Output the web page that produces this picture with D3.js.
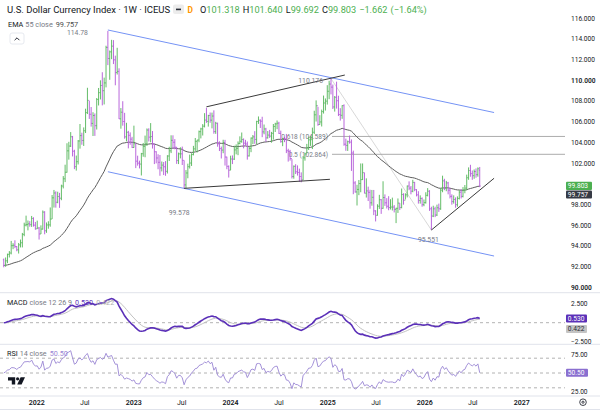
<!DOCTYPE html>
<html><head><meta charset="utf-8">
<script src="https://cdn.jsdelivr.net/npm/d3@7"></script>
<style>html,body{margin:0;padding:0;background:#fff;overflow:hidden}svg{display:block;font-family:Roboto,"Open Sans",sans-serif}</style>
</head><body><svg id="c" width="600" height="411"></svg>
<script>
// ---------------- DATA (weekly bars, Monday dated) ----------------
const firstWeek = "2021-08-30";
const firstOpen = 92.68;
const closes = [
 92.13,92.58,93.20,93.33,94.04,94.08,93.96,93.64,94.12,94.32,95.13,96.03,96.08,96.15,96.07,96.67,96.02,95.67,
 95.74,95.17,95.64,97.28,95.48,96.04,96.05,96.61,98.66,99.13,98.23,98.79,98.62,99.80,100.50,101.13,103.20,103.66,104.56,103.16,101.67,102.15,104.15,104.67,104.20,105.14,106.89,108.07,106.73,105.85,106.61,105.63,108.16,108.82,109.51,109.01,109.76,113.19,112.12,112.76,113.31,111.99,110.76,110.87,106.29,106.93,106.03,104.55,104.99,104.70,104.33,103.52,
 103.89,102.20,102.01,101.92,102.92,103.63,103.87,105.21,104.52,104.58,103.86,103.11,102.51,102.09,101.55,101.82,101.66,101.22,102.70,103.20,104.21,104.03,103.55,102.26,102.91,102.91,102.28,99.91,101.06,101.67,102.02,102.84,103.39,104.11,104.24,105.05,105.32,105.58,106.17,106.04,106.61,106.16,106.56,105.06,105.86,103.87,103.42,103.27,104.00,102.60,101.70,101.33,
 102.41,102.40,103.29,103.44,103.92,104.12,104.29,103.94,103.86,102.71,103.43,104.43,104.55,104.30,106.04,106.15,106.06,105.03,105.31,104.45,104.72,104.62,104.89,105.55,105.80,105.87,104.88,104.09,104.40,104.32,103.21,103.14,102.45,100.72,101.70,101.18,101.11,100.72,100.38,102.52,102.90,103.49,104.26,104.28,104.99,106.68,107.55,105.74,105.99,106.99,107.82,108.00,108.95,
 109.65,109.35,107.44,108.37,108.04,106.71,106.63,107.56,103.84,103.72,104.09,104.04,102.99,100.10,99.23,99.47,100.04,100.42,101.09,99.11,99.33,99.19,98.18,98.71,97.40,96.97,97.85,98.48,97.65,98.69,98.18,97.85,97.72,97.77,97.77,97.55,97.65,98.15,97.72,
 98.98,98.43,98.95,99.80,99.60,99.30,100.15,99.45,98.95,98.40,98.60,98.00,98.20,
 98.90,99.30,97.60,96.90,97.60,97.00,97.70,97.60,99.40,100.30,99.60,100.10,99.40,98.80,98.30,98.50,98.00,98.60,99.20,98.80,99.40,99.60,100.60,101.30,101.00,100.80,101.20,100.90,101.465,99.803
];
const highs = [
 92.80,92.90,93.27,93.52,94.50,94.28,94.56,94.00,94.30,94.63,95.27,96.26,96.94,96.47,96.41,96.91,96.78,96.33,
 96.46,95.85,96.00,97.44,97.37,96.28,96.40,97.73,98.93,99.42,99.29,99.25,99.14,99.93,100.76,101.86,103.93,104.07,105.01,104.64,103.30,102.74,104.24,105.79,104.95,105.46,107.27,109.29,108.02,107.43,106.93,106.81,108.30,109.27,110.01,110.79,110.27,113.35,114.78,112.89,113.92,113.89,112.39,113.15,111.17,107.33,107.99,106.87,105.91,105.13,104.98,104.55,
 105.63,103.92,102.73,102.25,103.00,103.96,104.67,105.36,105.38,105.88,105.11,103.88,103.16,102.87,102.80,102.17,102.12,102.21,102.78,103.59,104.70,104.70,104.33,103.57,103.03,103.54,103.61,102.27,101.34,101.96,102.84,102.97,103.68,104.44,104.26,105.16,105.43,105.78,106.84,107.35,106.68,106.90,106.89,107.11,106.00,105.92,104.12,103.61,104.27,104.26,102.63,101.79,
 102.73,102.76,103.69,103.82,104.11,104.60,104.97,104.40,104.26,104.10,103.61,104.49,104.73,105.10,106.10,106.52,106.24,106.49,105.74,105.42,105.11,105.22,105.03,105.79,105.91,106.13,106.00,105.15,104.44,104.55,104.83,103.40,103.29,102.40,101.79,101.91,101.79,101.48,101.12,102.69,103.01,103.87,104.57,104.63,105.44,107.07,108.07,107.45,106.64,107.18,108.54,108.26,109.54,
 109.96,110.18,109.60,108.49,109.88,108.52,107.32,107.60,107.69,104.38,104.19,104.68,104.30,103.22,100.27,99.92,100.38,101.98,101.98,101.09,100.54,99.74,99.44,99.42,99.42,97.46,98.04,98.95,98.55,100.26,98.99,98.63,98.82,98.53,98.68,97.96,97.70,98.60,98.15,
 99.56,99.10,99.10,99.85,100.25,99.80,100.40,100.20,99.50,99.30,98.90,98.70,98.50,
 99.20,99.60,99.40,97.80,97.90,97.80,98.00,98.10,99.60,100.80,100.50,100.30,100.20,99.60,99.00,98.90,98.70,98.80,99.40,99.50,99.70,99.90,100.90,101.60,101.85,101.30,101.40,101.50,101.60,101.640
];
const lows = [
 91.95,92.00,92.35,92.90,93.20,93.70,93.80,93.50,93.28,93.87,93.87,94.95,95.90,95.52,95.87,95.85,95.88,95.58,
 95.67,94.63,95.17,95.59,95.14,95.28,95.68,95.87,96.62,97.72,97.71,98.14,97.69,98.43,99.57,100.18,101.09,102.35,103.57,102.66,101.43,101.29,101.88,103.41,103.79,103.67,104.92,106.75,106.28,105.54,104.63,104.64,105.26,107.58,108.16,107.59,107.68,109.33,111.48,110.06,112.05,111.58,109.53,110.57,106.27,105.34,105.63,104.37,104.11,103.44,103.79,103.48,
 103.50,101.53,101.77,101.50,100.82,102.63,102.58,103.67,104.10,104.03,103.42,101.92,101.99,101.42,100.79,101.21,100.86,100.79,101.01,102.22,102.98,103.39,103.35,101.94,101.92,102.47,101.83,99.58,99.61,100.55,101.49,101.74,102.76,103.19,103.04,104.03,104.40,104.68,105.46,105.90,105.54,105.91,105.37,104.85,104.84,103.60,103.18,102.46,102.97,101.78,101.42,100.62,
 101.34,101.92,102.32,102.86,102.78,103.83,103.98,103.44,103.69,102.35,102.65,103.07,103.85,103.88,103.85,105.80,105.41,104.52,104.80,104.08,104.39,104.45,103.99,104.28,105.02,105.29,104.83,103.99,103.65,104.04,102.98,102.16,102.25,100.53,100.51,100.96,100.81,100.21,100.16,100.38,102.25,102.97,103.28,103.68,103.37,104.82,106.03,105.62,105.73,105.55,106.80,107.09,107.67,
 108.19,108.65,107.24,106.99,107.28,106.56,106.12,106.29,103.69,103.20,103.19,103.89,101.26,99.01,99.16,97.92,98.92,99.20,100.38,99.09,98.69,98.35,97.61,97.90,96.99,96.38,96.94,97.59,97.11,97.60,97.88,97.63,97.46,97.53,97.44,97.25,96.22,97.20,97.48,
 97.65,98.00,98.50,98.70,99.40,99.00,99.20,99.30,98.80,98.10,98.10,97.80,97.85,
 98.10,98.80,97.40,95.551,96.80,96.80,96.90,97.30,97.50,99.20,99.40,99.30,99.00,98.60,98.00,98.10,97.70,97.80,98.50,98.60,98.70,99.10,99.40,100.40,100.70,100.40,100.50,100.60,100.70,99.692
];
const headerOHLC = [101.318, 101.640, 99.692, 99.803];
const headerChange = ["−1.662", "(−1.64%)"];
const emaLastLabel = 99.757;
const macdLabels = [0.530, 0.422];
const rsiLastLabel = 50.50;
const rsiSeed = 0.5;

const priceTicks = [90,92,94,96,98,100,102,104,106,108,110,112,114,116];
const macdTicks = [2.5, -2.5];
const rsiTicks = [75, 25];
const rsiBands = [70, 50, 30];
const timeTicks = [["2022-01-01","2022",true],["2022-07-01","Jul",false],["2023-01-01","2023",true],["2023-07-01","Jul",false],["2024-01-01","2024",true],["2024-07-01","Jul",false],["2025-01-01","2025",true],["2025-07-01","Jul",false],["2026-01-01","2026",true],["2026-07-01","Jul",false],["2027-01-01","2027",true]];

// drawings (date, price)
const channelUpper = [["2022-09-26",114.87],["2026-09-19",106.90]];
const channelLower = [["2022-09-26",101.18],["2026-09-19",93.04]];
const wedgeUpper   = [["2023-10-02",107.45],["2025-03-06",110.52]];
const wedgeLower   = [["2023-07-10",99.578],["2025-01-09",100.45]];
const dropLine     = [["2025-01-13",110.176],["2026-01-26",95.551]];
const riseLine     = [["2026-01-26",95.551],["2026-09-19",100.55]];
const fibStart = "2025-01-13";
const fibLevels = [["0.618",104.589],["0.5",102.864]];
const pivots = [["2022-09-26",114.78,"114.78"],["2025-01-13",110.176,"110.176"],["2023-07-10",99.578,"99.578"],["2026-01-26",95.551,"95.551"]];

// ---------------- SETUP ----------------
const svg = d3.select("#c");
const P = d3.utcParse("%Y-%m-%d");
const dates = d3.utcMonday.range(P(firstWeek), P("2026-08-01")).slice(0, closes.length);
const opens = closes.map((c,i)=> i===0 ? firstOpen : closes[i-1]);
opens[opens.length-1] = headerOHLC[0];

const paneR = 565;
const x = d3.scaleUtc().domain([P("2022-01-01"), P("2027-01-01")]).range([36.7, 521.7]);
const y = d3.scaleLinear().domain([90,116]).range([287.5, 18.3]);
const yM = d3.scaleLinear().domain([-2.5,2.5]).range([342.1, 303.3]);
const yR = d3.scaleLinear().domain([25,75]).range([391.5, 354.5]);

// indicators
function ema(arr, n){ const a=2/(n+1); const out=[]; arr.forEach((v,i)=>out.push(i===0?v:a*v+(1-a)*out[i-1])); return out; }
const ema55 = ema(closes,55);
const e12 = ema(closes,12), e26 = ema(closes,26);
const macd = e12.map((v,i)=>v-e26[i]);
const signal = ema(macd,9);
const rsi = [];
let ag = rsiSeed, al = rsiSeed;
closes.forEach((c,i)=>{
  if(i>0){ const d=c-closes[i-1]; ag=(ag*13+Math.max(d,0))/14; al=(al*13+Math.max(-d,0))/14; }
  rsi.push(100-100/(1+ag/al));
});

const defs = svg.append("defs");
defs.append("clipPath").attr("id","cp").append("rect").attr("x",0).attr("y",0).attr("width",paneR).attr("height",292.5);
defs.append("clipPath").attr("id","cm").append("rect").attr("x",0).attr("y",293).attr("width",paneR).attr("height",51);
defs.append("clipPath").attr("id","cr").append("rect").attr("x",0).attr("y",345).attr("width",paneR).attr("height",50.5);
defs.append("clipPath").attr("id","cmAx").append("rect").attr("x",paneR).attr("y",293).attr("width",35).attr("height",51);

// separators
[292.7, 344.3, 396].forEach(v=> svg.append("line").attr("x1",0).attr("x2",600).attr("y1",v).attr("y2",v).attr("stroke","#e0e3eb").attr("stroke-width",1));

const gP = svg.append("g").attr("clip-path","url(#cp)");

const seg = (g, pts, color, w, dash) => g.append("line")
  .attr("x1",x(P(pts[0][0]))).attr("y1",y(pts[0][1])).attr("x2",x(P(pts[1][0]))).attr("y2",y(pts[1][1]))
  .attr("stroke",color).attr("stroke-width",w).attr("stroke-dasharray",dash||null);
seg(gP, channelUpper, "#7593f5", 1);
seg(gP, channelLower, "#7593f5", 1);
seg(gP, dropLine, "#d4d4d4", 0.9);

fibLevels.forEach(([lab,v])=>{
  gP.append("line").attr("x1",x(P(fibStart))+1).attr("x2",paneR).attr("y1",y(v)).attr("y2",y(v)).attr("stroke","#a3a3a3").attr("stroke-width",0.9);
  gP.append("text").attr("x",x(P(fibStart))-3).attr("y",y(v)+2.4).attr("text-anchor","end").attr("font-size",6.6).attr("fill","#787b86").text(`${lab} (${v.toFixed(3)})`);
});

gP.append("path").attr("d", d3.line().x((d,i)=>x(dates[i])).y(d=>y(d))(ema55)).attr("fill","none").attr("stroke","#5d5d5d").attr("stroke-width",1);

const UP="#5cb860", DN="#b55fd9";
closes.forEach((c,i)=>{
  const xi = x(dates[i]), o=opens[i];
  gP.append("path").attr("d",`M${xi},${y(highs[i])}V${y(lows[i])}M${xi-0.9},${y(o)}H${xi}M${xi},${y(c)}H${xi+0.9}`)
    .attr("stroke", c>=o?UP:DN).attr("stroke-width",0.95).attr("fill","none");
});

seg(gP, wedgeUpper, "#3a3a3a", 1);
seg(gP, wedgeLower, "#3a3a3a", 1);
seg(gP, riseLine, "#3a3a3a", 1);

const pv = {};
pivots.forEach(p=>pv[p[2]]=p);
function pLabel(k, dx, dy, anchor){ const p=pv[k]; gP.append("text").attr("x",x(P(p[0]))+dx).attr("y",y(p[1])+dy).attr("text-anchor",anchor).attr("font-size",6.8).attr("fill","#787b86").text(p[2]); }
pLabel("114.78", -20, 3.6, "end");
pLabel("110.176", -8, 4, "end");
pLabel("99.578", -5, 26.5, "middle");
pLabel("95.551", -3, 12, "middle");

// last price labels
function box(top, h, w, bg, fg, txt){
  svg.append("rect").attr("x",566).attr("y",top).attr("width",w).attr("height",h).attr("rx",1).attr("fill",bg);
  svg.append("text").attr("x",567.8).attr("y",top+h/2+2.3).attr("font-size",6.6).attr("fill",fg).text(txt);
}
const lc = closes[closes.length-1];
const gTop = y(lc)-4.2;
// price axis (labels hidden behind the last-price boxes are skipped)
priceTicks.forEach(v=>{
  const ty = y(v);
  if (ty > gTop-4 && ty < gTop+8.6+8.2+4) return;
  svg.append("text").attr("x",571).attr("y",ty+2.3).attr("font-size",6.6).attr("fill","#131722")
    .attr("font-weight", v%10===0 ? 600 : 400).text(v.toFixed(3));
});
box(gTop, 8.2, 26, "#4caf50", "#fff", lc.toFixed(3));
box(gTop+8.6, 8.2, 26, "#363a45", "#fff", emaLastLabel.toFixed(3));

// header
svg.append("text").attr("x",7).attr("y",13.2).attr("font-size",9.5).attr("fill","#131722").text("U.S. Dollar Currency Index · 1W · ICEUS");
svg.append("rect").attr("x",173).attr("y",4.5).attr("width",11).attr("height",9.5).attr("rx",2).attr("fill","#ececec");
svg.append("rect").attr("x",176).attr("y",8.6).attr("width",5).attr("height",1.6).attr("fill","#2a2e39");
svg.append("text").attr("x",187.5).attr("y",12.6).attr("font-size",8.4).attr("font-weight",700).attr("fill","#ff9800").text("D");
const oh = svg.append("text").attr("x",200).attr("y",12.8).attr("font-size",9.2);
[["O",headerOHLC[0]],["H",headerOHLC[1]],["L",headerOHLC[2]],["C",headerOHLC[3]]].forEach(([k,v],i)=>{
  oh.append("tspan").attr("fill","#131722").attr("dx", i?3:0).text(k);
  oh.append("tspan").attr("fill","#4caf50").text(v.toFixed(3));
});
oh.append("tspan").attr("fill","#4caf50").attr("dx",3).text(headerChange[0]);
oh.append("tspan").attr("fill","#4caf50").attr("dx",3).text(headerChange[1]);

const emaT = svg.append("text").attr("x",8).attr("y",26.8).attr("font-size",7.3);
emaT.append("tspan").attr("fill","#131722").text("EMA");
emaT.append("tspan").attr("fill","#787b86").attr("dx",2).text("55 close");
emaT.append("tspan").attr("fill","#4a4a4a").attr("dx",3).text(emaLastLabel.toFixed(3));

svg.append("rect").attr("x",10).attr("y",33).attr("width",14).attr("height",11).attr("rx",2).attr("fill","#fff").attr("stroke","#e0e3eb").attr("stroke-width",0.8);
svg.append("path").attr("d","M14.6,40.2L17,37.8L19.4,40.2").attr("fill","none").attr("stroke","#131722").attr("stroke-width",0.9);

// ---------------- MACD ----------------
const gM = svg.append("g").attr("clip-path","url(#cm)");
gM.append("line").attr("x1",0).attr("x2",paneR).attr("y1",yM(0)).attr("y2",yM(0)).attr("stroke","#9e9e9e").attr("stroke-width",0.8).attr("stroke-dasharray","3,3");
gM.append("path").attr("d", d3.line().x((d,i)=>x(dates[i])).y(d=>yM(d))(signal)).attr("fill","none").attr("stroke","#c2c2c2").attr("stroke-width",1);
gM.append("path").attr("d", d3.line().x((d,i)=>x(dates[i])).y(d=>yM(d))(macd)).attr("fill","none").attr("stroke","#5b30b8").attr("stroke-width",1.6);
const mT = svg.append("text").attr("x",7).attr("y",305.2).attr("font-size",7.2);
mT.append("tspan").attr("fill","#131722").text("MACD");
mT.append("tspan").attr("fill","#787b86").attr("dx",2).text("close 12 26 9");
mT.append("tspan").attr("fill","#5b30b8").attr("dx",3).text(macdLabels[0].toFixed(3));
mT.append("tspan").attr("fill","#b0b0b0").attr("dx",3).text(macdLabels[1].toFixed(3));
const gMA = svg.append("g").attr("clip-path","url(#cmAx)");
macdTicks.forEach(v=> gMA.append("text").attr("x",571).attr("y",yM(v)+2.3).attr("font-size",6.6).attr("fill","#131722").text((v<0?"−":"")+Math.abs(v).toFixed(3)));
const mTop = yM(macdLabels[0])-4;
box(mTop, 8, 21, "#5b30b8", "#fff", macdLabels[0].toFixed(3));
box(mTop+10.5, 8, 21, "#c4c4c4", "#2a2e39", macdLabels[1].toFixed(3));

// ---------------- RSI ----------------
const gR = svg.append("g").attr("clip-path","url(#cr)");
rsiBands.forEach(v=> gR.append("line").attr("x1",0).attr("x2",paneR).attr("y1",yR(v)).attr("y2",yR(v)).attr("stroke","#9e9e9e").attr("stroke-width",0.8).attr("stroke-dasharray","3,3"));
gR.append("path").attr("d", d3.line().x((d,i)=>x(dates[i])).y(d=>yR(d))(rsi)).attr("fill","none").attr("stroke","#9a86d4").attr("stroke-width",0.9);
const rT = svg.append("text").attr("x",7).attr("y",355.6).attr("font-size",7.2);
rT.append("tspan").attr("fill","#131722").text("RSI");
rT.append("tspan").attr("fill","#787b86").attr("dx",2).text("14 close");
rT.append("tspan").attr("fill","#9a86d4").attr("dx",3).text(rsiLastLabel.toFixed(2));
rsiTicks.forEach(v=> svg.append("text").attr("x",571).attr("y",yR(v)+2.3).attr("font-size",6.6).attr("fill","#131722").text(v.toFixed(2)));
box(yR(rsiLastLabel)-4, 8, 22, "#8a6fd0", "#fff", rsiLastLabel.toFixed(2));

// TV logo
const lg = svg.append("g").attr("fill","#131722");
lg.append("path").attr("d","M8,377.2H15.2V384.6H11.8V380.4H8Z");
lg.append("circle").attr("cx",17.6).attr("cy",378.8).attr("r",1.6);
lg.append("path").attr("d","M20.6,377.2H25L21.6,384.6H17.2Z");

// time axis
timeTicks.forEach(([d,t,b])=> svg.append("text").attr("x",x(P(d))).attr("y",404.6).attr("text-anchor","middle").attr("font-size",7).attr("font-weight",b?600:400).attr("fill","#131722").text(t));
svg.append("circle").attr("cx",583).attr("cy",402.2).attr("r",3.3).attr("fill","none").attr("stroke","#131722").attr("stroke-width",0.8);
svg.append("circle").attr("cx",583).attr("cy",402.2).attr("r",1.1).attr("fill","none").attr("stroke","#131722").attr("stroke-width",0.8);
svg.append("line").attr("x1",0).attr("x2",600).attr("y1",409.5).attr("y2",409.5).attr("stroke","#e0e3eb");
</script></body></html>
